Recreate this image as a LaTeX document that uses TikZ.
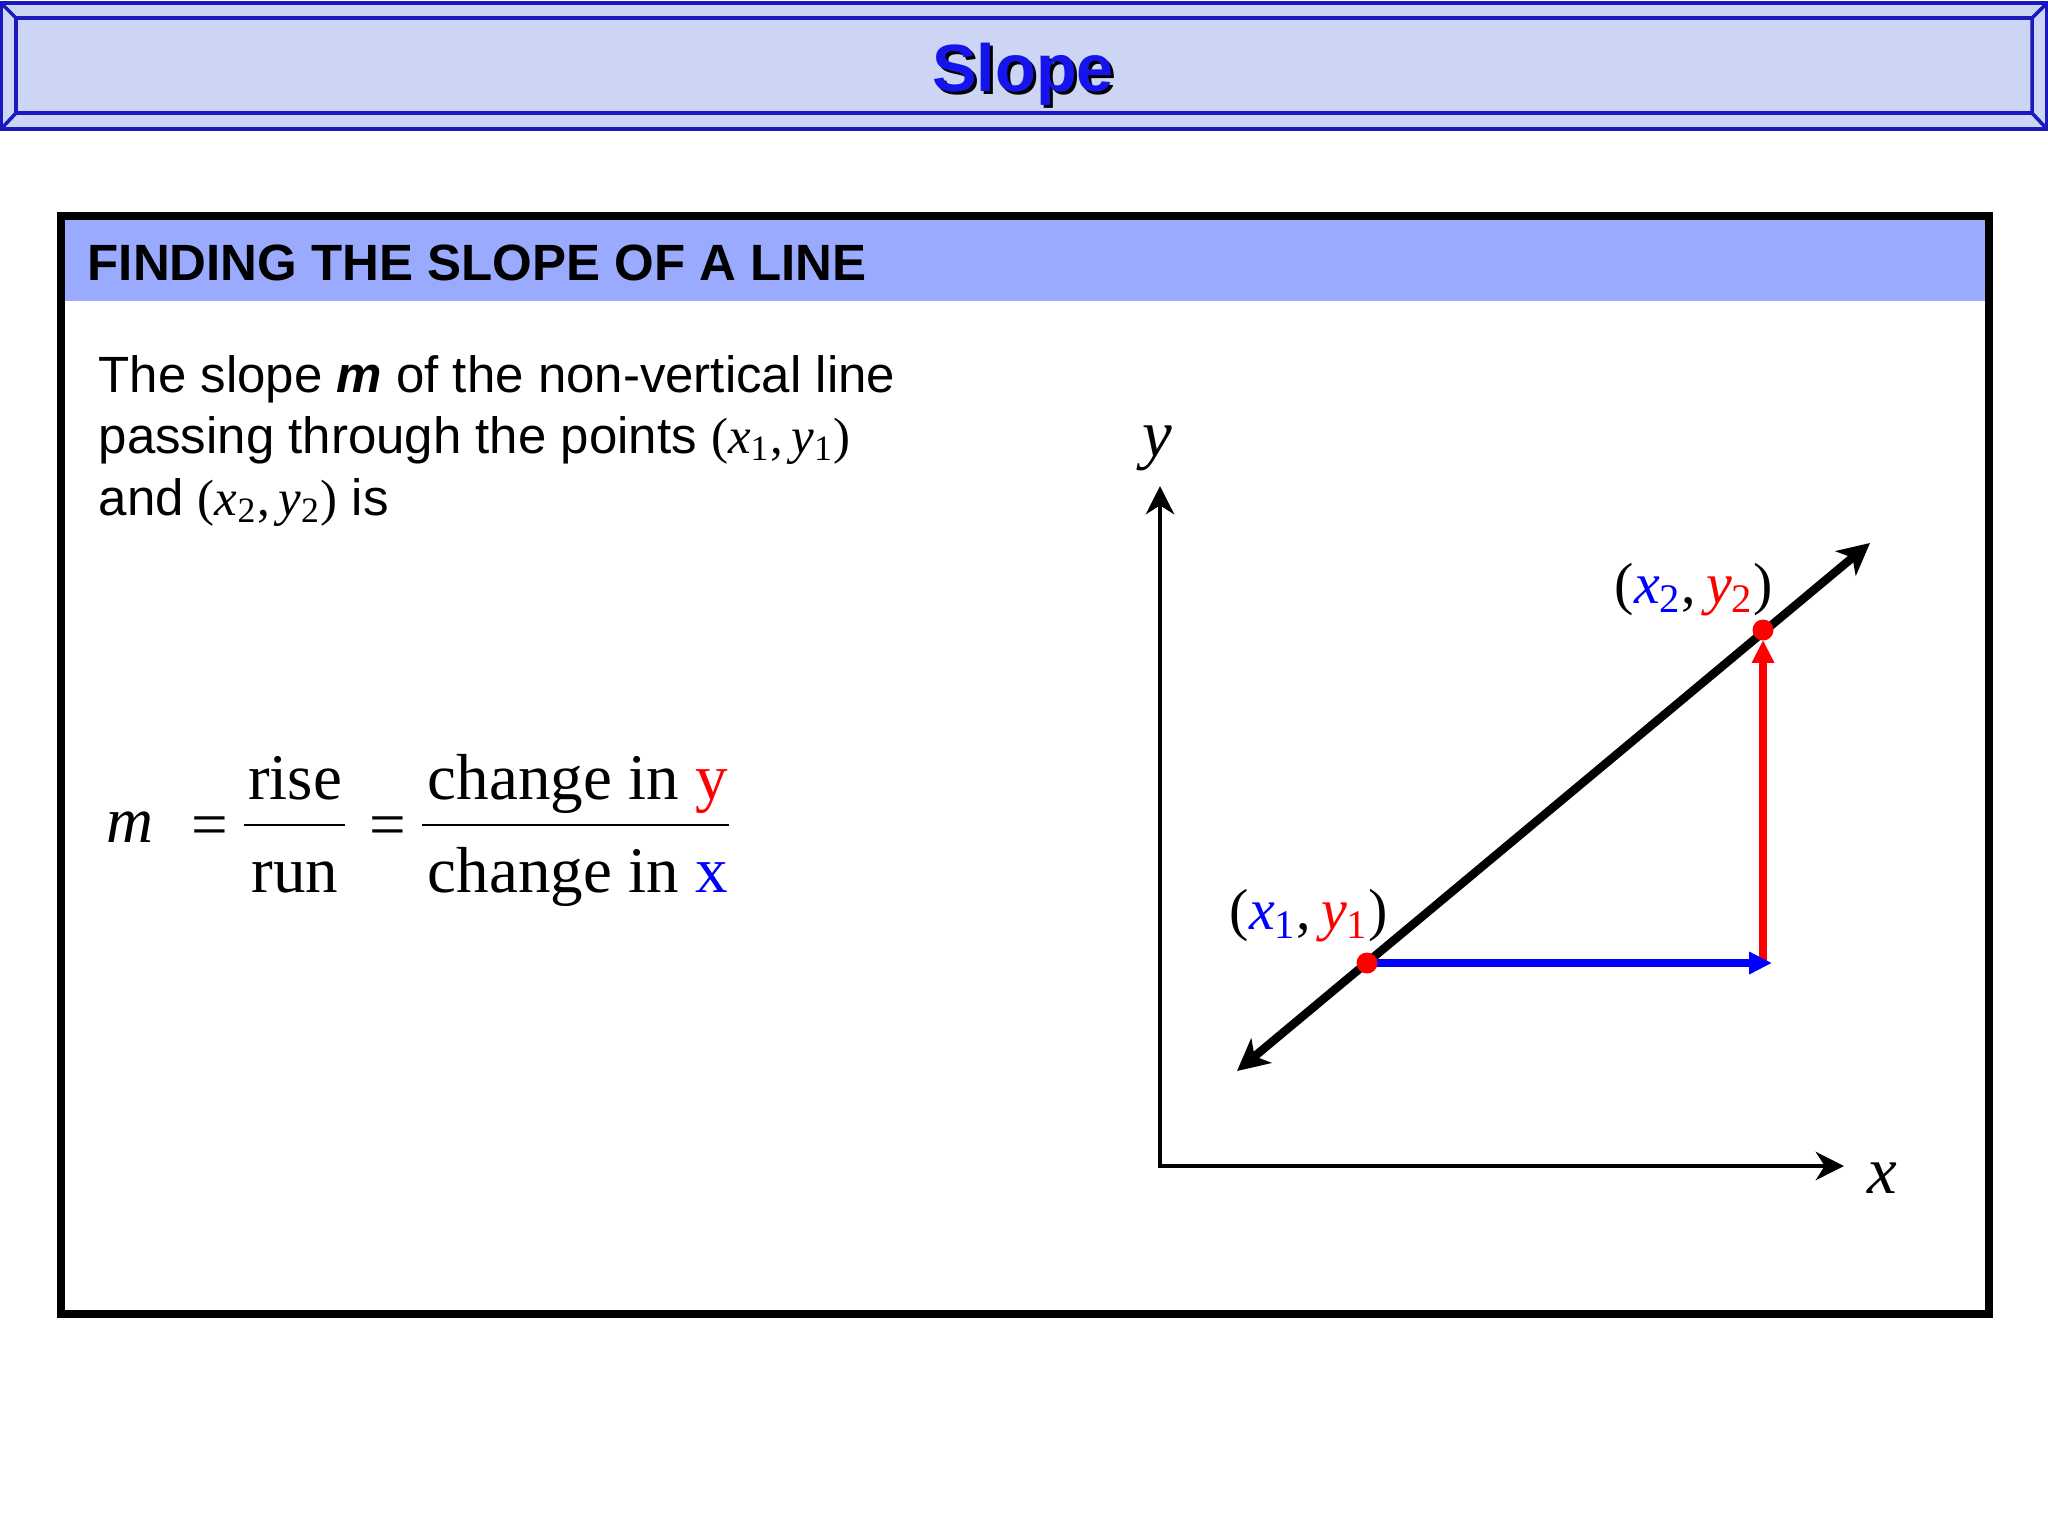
\documentclass[tikz,border=0pt]{standalone}
\usepackage{fontspec}
\setmainfont{Liberation Sans}
\newfontfamily\tms{Liberation Serif}
\usetikzlibrary{arrows.meta}
\definecolor{bannerfill}{RGB}{204,214,244}
\definecolor{bannerline}{RGB}{25,25,190}
\definecolor{headband}{RGB}{153,170,255}
\definecolor{titleblue}{RGB}{20,20,235}
\newcommand\ptpair[3]{{\tms(\textcolor{#1}{\textit{x}\textsubscript{#3}},\,\textcolor{#2}{\textit{y}\textsubscript{#3}})}}
\begin{document}
\begin{tikzpicture}[x=0.01cm,y=-0.01cm,
    bodytext/.style={anchor=base west,inner sep=0pt,font=\fontsize{14.5}{17}\selectfont},
    eqtext/.style={inner sep=0pt,font=\tms\fontsize{18.5}{22}\selectfont},
    fracbar/.style={line width=0.8pt},
    axis/.style={line width=1.4pt,line join=miter,{Stealth[length=8pt,width=8pt,inset=2.5pt]}-{Stealth[length=8pt,width=8pt,inset=2.5pt]}},
    mainline/.style={line width=2.4pt,{Stealth[length=9pt,width=9pt,inset=2.5pt]}-{Stealth[length=9pt,width=9pt,inset=2.5pt]}},
    legarrow/.style={line width=2.2pt,-{Triangle[length=6.5pt,width=6pt]}},
    ptlabel/.style={inner sep=0pt,font=\fontsize{16.5}{19}\selectfont},
    axislabel/.style={inner sep=0pt,font=\tms\fontsize{19}{22}\selectfont}]
  \useasboundingbox (0,0) rectangle (2048,1536);
  % title banner
  \draw[bannerline,line width=1pt,fill=bannerfill] (1,3) rectangle (2047,129);
  \draw[bannerline,line width=1pt] (16,18) rectangle (2032,113)
    (1,3) -- (16,18) (2047,3) -- (2032,18) (1,129) -- (16,113) (2047,129) -- (2032,113);
  \node[anchor=base,inner sep=0pt,font=\bfseries\fontsize{19}{22}\selectfont,text=black] at (1026,94) {Slope};
  \node[anchor=base,inner sep=0pt,font=\bfseries\fontsize{19}{22}\selectfont,text=titleblue] (title) at (1023,91) {Slope};
  % frame and header
  \fill[headband] (65,220) rectangle (1985,301);
  \draw[line width=0.08cm] (61,216) rectangle (1989,1314);
  \node[anchor=base west,inner sep=0pt,font=\bfseries\fontsize{14.5}{17}\selectfont] (head) at (87,280) {FINDING THE SLOPE OF A LINE};
  \node[bodytext] (body1) at (98,392) {The slope \textbf{\textit{m}} of the non-vertical line};
  \node[bodytext] (body2) at (98,453) {passing through the points \ptpair{black}{black}{1}};
  \node[bodytext] (body3) at (98,515) {and \ptpair{black}{black}{2} is};
  % formula
  \node[eqtext,anchor=base] (m) at (130,842) {\itshape m};
  \node[eqtext,anchor=base] (eqA) at (210,846) {=};
  \node[eqtext,anchor=base] (rise) at (295,799) {rise};
  \node[eqtext,anchor=base] (run) at (295,892) {run};
  \draw[fracbar] (244,825) -- (345,825);
  \node[eqtext,anchor=base] (eqB) at (388,846) {=};
  \node[eqtext,anchor=base west] (dy) at (427,799) {change in \textcolor{red}{y}};
  \node[eqtext,anchor=base west] (dx) at (427,892) {change in \textcolor{blue}{x}};
  \draw[fracbar] (422,825) -- (729,825);
  % graph
  \path (1160,1166) coordinate (O) -- (1160,486) coordinate (Ytip) -- (1844,1166) coordinate (Xtip)
        (1237,1071) coordinate (Lstart) -- (1870,543) coordinate (Lend)
        (1367,963) coordinate (P1) -- (1763,630) coordinate (P2)
        (1772,963) coordinate (Q) (1763,963) coordinate (R);
  \draw[axis] (Ytip) -- (O) -- (Xtip);
  \draw[mainline] (Lstart) -- (Lend);
  \draw[legarrow,red] (R) -- ([yshift=-1mm]P2);
  \draw[legarrow,blue] (P1) -- (Q);
  \foreach \p in {P1,P2} \fill[red] (\p) circle[radius=1.05mm];
  \node[axislabel] (ylab) at (1157,448) {\textit{y}};
  \node[axislabel] (xlab) at (1882,1178) {\textit{x}};
  \node[ptlabel] (lbl1) at (1309,916) {\ptpair{blue}{red}{1}};
  \node[ptlabel] (lbl2) at (1694,590) {\ptpair{blue}{red}{2}};
\end{tikzpicture}
\end{document}
